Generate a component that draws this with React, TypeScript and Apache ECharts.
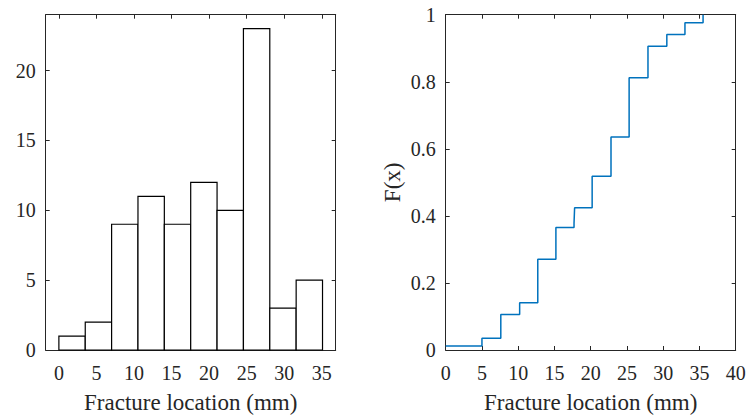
import React, { useEffect, useRef } from "react";
import * as echarts from "echarts";

// Histogram (left panel)
const binStarts = [0, 3.51, 7.02, 10.53, 14.04, 17.55, 21.06, 24.57, 28.08, 31.59];
const binEnds = [3.51, 7.02, 10.53, 14.04, 17.55, 21.06, 24.57, 28.08, 31.59, 35.1];
const binCounts = [1, 2, 9, 11, 9, 12, 10, 23, 3, 5];
const histXTicks = [0, 5, 10, 15, 20, 25, 30, 35];
const histYTicks = [0, 5, 10, 15, 20];

// Empirical CDF (right panel)
const cdfX = [0, 5.0, 7.6, 10.2, 12.7, 15.2, 17.7, 17.78, 20.2, 22.8, 25.3, 27.9, 30.5, 33.0, 35.5];
const cdfY = [0.0118, 0.0353, 0.106, 0.141, 0.271, 0.365, 0.378, 0.424, 0.518, 0.635, 0.812, 0.906, 0.941, 0.976, 1.0];

const xTitle = "Fracture location (mm)";
const yTitleRight = "F(x)";

const FONT = "Liberation Serif";
const TXT = "#262626";

export default function App() {
  const ref = useRef<HTMLDivElement>(null);
  useEffect(() => {
    if (!ref.current) return;
    const chart = echarts.init(ref.current, undefined, { renderer: "svg" });

    const axisLine = { show: true, onZero: false, lineStyle: { color: TXT, width: 1 } };
    const tickStyle = { inside: true, length: 4, lineStyle: { color: TXT, width: 1 } };
    const labelStyle = { color: TXT, fontFamily: FONT, fontSize: 20 };
    const nameStyle = { color: TXT, fontFamily: FONT, fontSize: 23 };

    const histData = binCounts.map((c, i) => [binStarts[i], binEnds[i], c]);
    const cdfData = cdfX.map((x, i) => [x, cdfY[i]]);

    chart.setOption({
      animation: false,
      textStyle: { fontFamily: FONT },
      grid: [
        { left: 45.7, top: 14.7, width: 290, height: 338 },
        { left: 445.7, top: 14.7, width: 290, height: 338 },
      ],
      xAxis: [
        {
          type: "value", gridIndex: 0, min: -1.755, max: 36.855, position: "bottom",
          axisLine, splitLine: { show: false },
          axisTick: { ...tickStyle, customValues: histXTicks },
          axisLabel: { ...labelStyle, margin: 13, customValues: histXTicks },
          name: xTitle, nameLocation: "middle", nameGap: 41, nameTextStyle: nameStyle,
        },
        {
          type: "value", gridIndex: 0, min: -1.755, max: 36.855, position: "top",
          axisLine, splitLine: { show: false },
          axisTick: { ...tickStyle, customValues: histXTicks },
          axisLabel: { show: false, customValues: histXTicks },
        },
        {
          type: "value", gridIndex: 1, min: 0, max: 40, interval: 5, position: "bottom",
          axisLine, splitLine: { show: false },
          axisTick: tickStyle,
          axisLabel: { ...labelStyle, margin: 13 },
          name: xTitle, nameLocation: "middle", nameGap: 41, nameTextStyle: nameStyle,
        },
        {
          type: "value", gridIndex: 1, min: 0, max: 40, interval: 5, position: "top",
          axisLine, splitLine: { show: false },
          axisTick: tickStyle,
          axisLabel: { show: false },
        },
      ],
      yAxis: [
        {
          type: "value", gridIndex: 0, min: 0, max: 24, position: "left",
          axisLine, splitLine: { show: false },
          axisTick: { ...tickStyle, customValues: histYTicks },
          axisLabel: { ...labelStyle, margin: 10, customValues: histYTicks },
        },
        {
          type: "value", gridIndex: 0, min: 0, max: 24, position: "right",
          axisLine, splitLine: { show: false },
          axisTick: { ...tickStyle, customValues: histYTicks },
          axisLabel: { show: false, customValues: histYTicks },
        },
        {
          type: "value", gridIndex: 1, min: 0, max: 1, interval: 0.2, position: "left",
          axisLine, splitLine: { show: false },
          axisTick: tickStyle,
          axisLabel: { ...labelStyle, margin: 10 },
          name: yTitleRight, nameLocation: "middle", nameGap: 42, nameRotate: 90,
          nameTextStyle: nameStyle,
        },
        {
          type: "value", gridIndex: 1, min: 0, max: 1, interval: 0.2, position: "right",
          axisLine, splitLine: { show: false },
          axisTick: tickStyle,
          axisLabel: { show: false },
        },
      ],
      series: [
        {
          type: "custom",
          xAxisIndex: 0,
          yAxisIndex: 0,
          data: histData,
          renderItem: (params: any, api: any) => {
            const p0 = api.coord([api.value(0), api.value(2)]);
            const p1 = api.coord([api.value(1), 0]);
            return {
              type: "rect",
              shape: { x: p0[0], y: p0[1], width: p1[0] - p0[0], height: p1[1] - p0[1] },
              style: { fill: "#ffffff", stroke: "#000000", lineWidth: 1.2 },
            };
          },
        },
        {
          type: "line",
          xAxisIndex: 2,
          yAxisIndex: 2,
          data: cdfData,
          step: "end",
          showSymbol: false,
          symbol: "none",
          clip: false,
          lineStyle: { color: "#0072BD", width: 1.5 },
        },
      ],
    });
    return () => chart.dispose();
  }, []);
  return (
    <div
      ref={ref}
      style={{ position: "fixed", left: 0, top: 0, width: 749, height: 419, background: "#fff" }}
    />
  );
}
